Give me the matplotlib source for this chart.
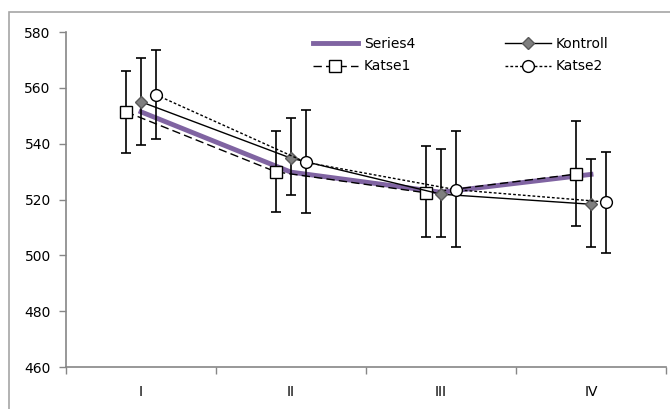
import matplotlib
matplotlib.use("Agg")
import matplotlib.pyplot as plt
from matplotlib.patches import Rectangle

plt.rcParams['font.family'] = ['DejaVu Sans']

# data
categories = ['I', 'II', 'III', 'IV']

kontroll = [555.0, 534.8, 521.9, 518.3]
kontroll_lo = [539.6, 521.5, 506.5, 503.1]
kontroll_hi = [570.6, 549.2, 538.0, 534.6]

katse1 = [551.4, 529.9, 522.4, 529.1]
katse1_lo = [536.6, 515.7, 506.5, 510.6]
katse1_hi = [566.1, 544.4, 539.1, 548.1]

katse2 = [557.5, 533.3, 523.5, 519.1]
katse2_lo = [541.6, 515.2, 503.1, 501.0]
katse2_hi = [573.6, 552.2, 544.6, 537.1]

series4 = [551.4, 529.8, 522.6, 529.0]

pos = [1, 2, 3, 4]
shift = 0.1

fig = plt.figure(figsize=(6.7, 4.09), dpi=100)
ax = fig.add_axes([66 / 670, 1 - 367 / 409, 600 / 670, 335 / 409])

# gray frame around the chart area
fig.patches.append(Rectangle((9 / 670, -0.1), 1.0, 1 - 12 / 409 + 0.1,
                             transform=fig.transFigure, fill=False,
                             edgecolor='#a6a6a6', linewidth=1.2))

def errs(v, lo, hi):
    return [[a - b for a, b in zip(v, lo)], [c - a for a, c in zip(v, hi)]]

ax.plot(pos, series4, color='#8064a2', lw=3.5, label='Series4', zorder=2)

x1 = [p - shift for p in pos]
x2 = [p + shift for p in pos]

eb = dict(fmt='none', ecolor='black', elinewidth=1.2, capsize=3.3, capthick=1.2, zorder=3)
ax.errorbar(x1, katse1, yerr=errs(katse1, katse1_lo, katse1_hi), **eb)
ax.errorbar(pos, kontroll, yerr=errs(kontroll, kontroll_lo, kontroll_hi), **eb)
ax.errorbar(x2, katse2, yerr=errs(katse2, katse2_lo, katse2_hi), **eb)

ax.plot(x1, katse1, color='black', lw=1.0, ls=(0, (6, 3)), marker='s',
        ms=8.5, mfc='white', mec='black', mew=1.0, label='Katse1', zorder=4)
ax.plot(pos, kontroll, color='black', lw=1.0, marker='D', ms=6.5,
        mfc='#7f7f7f', mec='#595959', mew=1.0, label='Kontroll', zorder=4)
ax.plot(x2, katse2, color='black', lw=1.0, ls=(0, (2, 1.5)), marker='o',
        ms=8.5, mfc='white', mec='black', mew=1.0, label='Katse2', zorder=4)

ax.set_xlim(0.5, 4.5)
ax.set_ylim(460, 580)
ax.set_yticks([460, 480, 500, 520, 540, 560, 580])
ax.set_xticks([1, 2, 3, 4])
ax.set_xticklabels(categories)
ax.set_xticks([0.5, 1.5, 2.5, 3.5, 4.5], minor=True)
ax.tick_params(axis='x', which='major', length=0, pad=13, labelsize=10)
ax.tick_params(axis='x', which='minor', length=5, width=1, color='#868686', direction='out')
ax.tick_params(axis='y', length=5, width=1, color='#868686', labelsize=10, pad=6)

for s in ['top', 'right']:
    ax.spines[s].set_visible(False)
for s in ['left', 'bottom']:
    ax.spines[s].set_color('#868686')
    ax.spines[s].set_linewidth(1.2)

handles, labels = ax.get_legend_handles_labels()
order = ['Series4', 'Katse1', 'Kontroll', 'Katse2']
hmap = dict(zip(labels, handles))
ax.legend([hmap[o] for o in order], order, ncol=2, frameon=False,
          loc='upper left', bbox_to_anchor=(0.39, 1.022), fontsize=10,
          handlelength=3.3, columnspacing=6.45, handletextpad=0.4,
          labelspacing=0.6)

fig.savefig('out.png', dpi=100)
